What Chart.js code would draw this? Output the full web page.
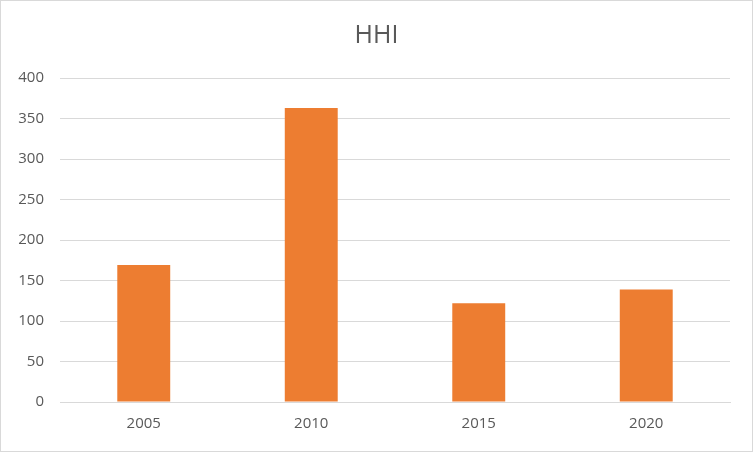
<!DOCTYPE html>
<html>
<head>
<meta charset="utf-8">
<script src="https://cdn.jsdelivr.net/npm/chart.js@4/dist/chart.umd.min.js"></script>
<style>
    html, body { margin: 0; padding: 0; background: #fff; }
    #wrap {
        position: relative;
        width: 753px;
        height: 452px;
        border: 1px solid #d9d9d9;
        box-sizing: border-box;
    }
</style>
</head>
<body>
<div id="wrap"><canvas id="chart"></canvas></div>
<script>
var years = ["2005", "2010", "2015", "2020"];
var hhiValues = [169, 363, 122, 139];
var yTicks = [0, 50, 100, 150, 200, 250, 300, 350, 400];

var textColor = '#595959';
var gridColor = '#d9d9d9';

document.addEventListener("DOMContentLoaded", event => {
    createChart(document.getElementById('chart'));
})

/**
 * Builds the HHI bar chart
 * @param {*} ctx - the canvas element
 */
function createChart(ctx) {
    var myChart = new Chart(ctx, {
        type: 'bar',
        data: {
            labels: years,
            datasets: [{
                label: 'HHI',
                data: hhiValues,
                backgroundColor: '#ed7d31',
                borderWidth: 0,
                barPercentage: 0.316,
                categoryPercentage: 1
            }]
        },
        options: {
            responsive: true,
            maintainAspectRatio: false,
            animation: false,
            layout: {
                padding: 0
            },
            plugins: {
                legend: { display: false },
                tooltip: { enabled: false },
                title: {
                    display: true,
                    text: 'HHI',
                    color: textColor,
                    font: { family: 'Open Sans', size: 25, weight: 'normal' },
                    padding: { top: 20, bottom: 27 }
                }
            },
            scales: {
                x: {
                    grid: { display: false, drawTicks: false },
                    border: { display: true, color: gridColor, width: 1 },
                    ticks: {
                        color: textColor,
                        font: { family: 'Open Sans', size: 15 },
                        padding: 13
                    },
                    afterFit: scale => { scale.height = 49; }
                },
                y: {
                    min: 0,
                    max: 400,
                    afterBuildTicks: scale => {
                        scale.ticks = yTicks.map(v => ({ value: v }));
                    },
                    grid: { color: gridColor, lineWidth: 1, drawTicks: false },
                    border: { display: false },
                    ticks: {
                        color: textColor,
                        font: { family: 'Open Sans', size: 15 },
                        padding: 16
                    },
                    afterFit: scale => { scale.width = 59; }
                },
                // empty axis on the right, only reserves the right margin
                spacer: {
                    position: 'right',
                    grid: { display: false, drawTicks: false },
                    border: { display: false },
                    ticks: { display: false },
                    afterFit: scale => { scale.width = 22; }
                }
            }
        }
    });
    return myChart;
}
</script>
</body>
</html>
